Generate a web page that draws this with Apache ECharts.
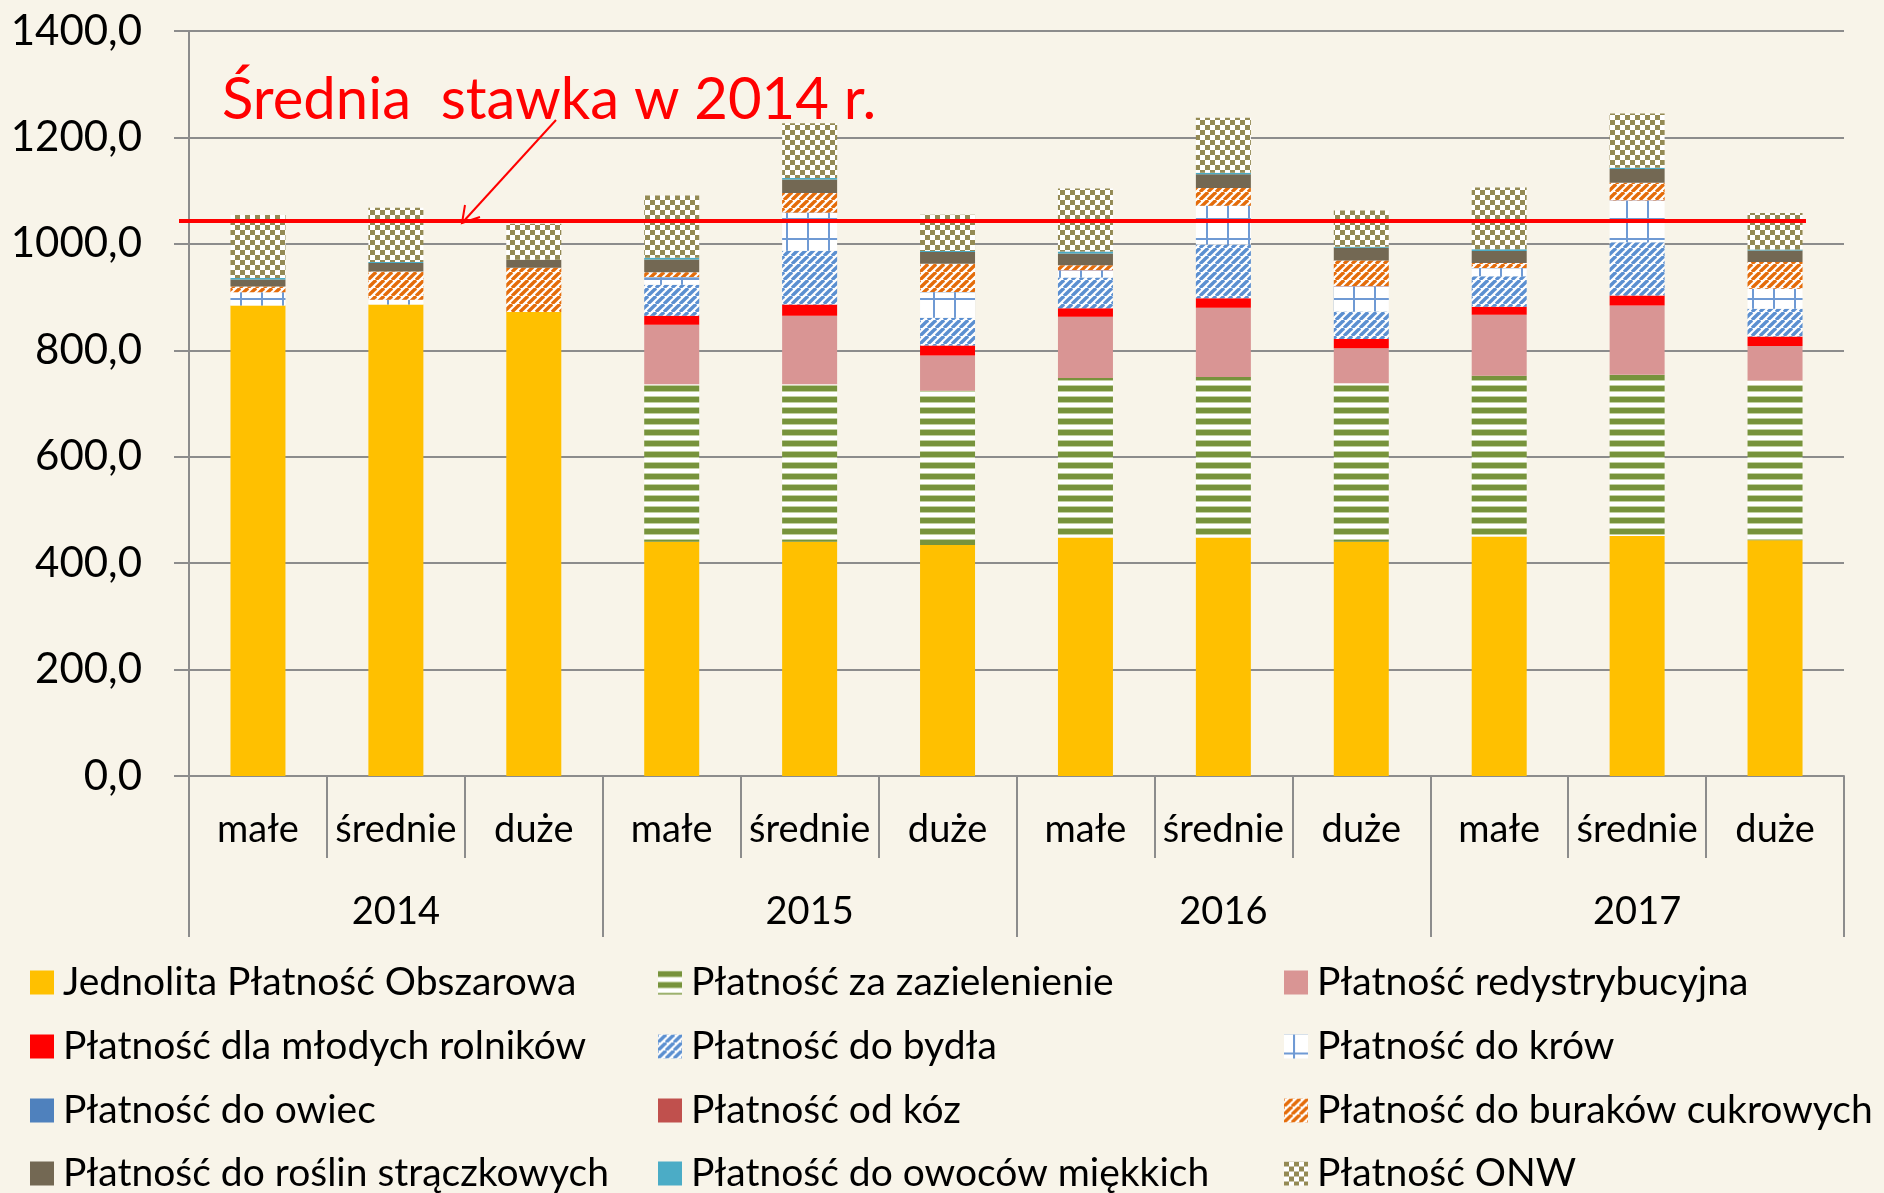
<!DOCTYPE html>
<html>
<head>
<meta charset="utf-8">
<title>Płatności bezpośrednie</title>
<script src="https://cdn.jsdelivr.net/npm/echarts@6/dist/echarts.min.js"></script>
<style>
    html, body { margin: 0; padding: 0; background: #F8F4E9; }
    #chart { width: 1884px; height: 1193px; }
</style>
</head>
<body>
<div id="chart"></div>
<script>
    // kategorie
    var sizes = ['małe', 'średnie', 'duże', 'małe', 'średnie', 'duże', 'małe', 'średnie', 'duże', 'małe', 'średnie', 'duże'];
    var years = ['2014', '2015', '2016', '2017'];
    var yMin = 0, yMax = 1400, yStep = 200;
    var avg2014 = 1043; // Średnia stawka w 2014 r.

    // wartości
    var jpo        = [884, 886, 872, 440, 440, 434, 448, 448, 440, 450, 451, 443];
    var zaziel     = [0, 0, 0, 296, 296, 290, 300, 302, 298, 302, 303, 300];
    var redystr    = [0, 0, 0, 112, 129, 66, 115, 130, 66, 115, 130, 65];
    var mlodzi     = [0, 0, 0, 17, 21, 19, 16, 18, 17, 15, 19, 18];
    var bydlo      = [0, 0, 0, 58, 101, 52, 58, 101, 52, 57, 100, 52];
    var krowy      = [25, 9, 0, 14, 71, 48, 13, 72, 47, 15, 78, 37];
    var owce       = [0, 0, 0, 0.6, 0.6, 0.5, 0.6, 0.6, 0.5, 0.6, 0.6, 0.5];
    var kozy       = [0, 0, 0, 0.2, 0.2, 0.2, 0.2, 0.2, 0.2, 0.2, 0.2, 0.2];
    var buraki     = [11, 53, 83, 9, 37, 53, 9, 33, 48, 9, 33, 50];
    var straczkowe = [13, 16, 15, 24, 25, 22, 22, 26, 24, 23, 26, 22];
    var owoce      = [3, 2, 0, 3, 3, 2, 4, 3, 2, 3, 2, 1.5];
    var onw        = [118, 102, 68, 117, 103, 68, 118, 103, 68, 116, 102, 69];

    var FONT = 'Lato';

    function tile(w, h, paint) {
        var c = document.createElement('canvas');
        c.width = w; c.height = h;
        var ctx = c.getContext('2d');
        ctx.fillStyle = '#FFFFFF';
        ctx.fillRect(0, 0, w, h);
        paint(ctx, w, h);
        return { image: c, repeat: 'repeat' };
    }
    function stripesH(color) {
        return tile(8, 11, function (ctx, w) {
            ctx.fillStyle = '#C3D1A3';
            ctx.fillRect(0, 0, w, 7);
            ctx.fillStyle = color;
            ctx.fillRect(0, 1, w, 5);
        });
    }
    function diag(color, p) {
        return tile(p, p, function (ctx) {
            ctx.strokeStyle = color;
            ctx.lineWidth = p * 0.42;
            for (var k = -1; k <= 1; k++) {
                ctx.beginPath();
                ctx.moveTo(k * p, p);
                ctx.lineTo(k * p + p, 0);
                ctx.stroke();
            }
        });
    }
    function gridTile(color) {
        return tile(21, 20, function (ctx) {
            ctx.fillStyle = color;
            ctx.fillRect(9, 0, 2, 20);
            ctx.fillRect(0, 18, 21, 2);
        });
    }
    function checker(color) {
        return tile(10, 10, function (ctx) {
            ctx.fillStyle = color;
            ctx.fillRect(0, 0, 5, 5);
            ctx.fillRect(5, 5, 5, 5);
        });
    }

    var seriesDefs = [
        ['Jednolita Płatność Obszarowa', jpo, '#FFC000'],
        ['Płatność za zazielenienie', zaziel, stripesH('#77933C')],
        ['Płatność redystrybucyjna', redystr, '#D99594'],
        ['Płatność dla młodych rolników', mlodzi, '#FF0000'],
        ['Płatność do bydła', bydlo, diag('#5B8FD0', 8)],
        ['Płatność do krów', krowy, gridTile('#6F9AD4')],
        ['Płatność do owiec', owce, '#4F81BD'],
        ['Płatność od kóz', kozy, '#C0504D'],
        ['Płatność do buraków cukrowych', buraki, diag('#E46C0A', 8)],
        ['Płatność do roślin strączkowych', straczkowe, '#736853'],
        ['Płatność do owoców miękkich', owoce, '#4BACC6'],
        ['Płatność ONW', onw, checker('#948A54')]
    ];
    var names = seriesDefs.map(function (d) { return d[0]; });

    // legenda: 3 kolumny x 4 wiersze
    var legendCols = [30, 658, 1284];
    var legendRows = [983, 1047, 1111, 1174];
    var legends = names.map(function (n, i) {
        return {
            left: legendCols[i % 3],
            top: legendRows[Math.floor(i / 3)] - 20,
            padding: 0,
            itemWidth: 24,
            itemHeight: 24,
            icon: 'rect',
            selectedMode: false,
            data: [n],
            textStyle: { fontSize: 39, fontFamily: FONT, color: '#000', padding: [0, 0, 0, 4] }
        };
    });

    var axisGray = '#8C8C8C';
    var chart = echarts.init(document.getElementById('chart'));
    chart.setOption({
        backgroundColor: '#F8F4E9',
        animation: false,
        grid: { left: 189, right: 40, top: 31, bottom: 417 },
        legend: legends,
        xAxis: [
            {
                type: 'category',
                data: sizes,
                axisLine: { lineStyle: { color: axisGray, width: 2 } },
                axisTick: { show: true, interval: 0, length: 82, lineStyle: { color: axisGray, width: 2 } },
                axisLabel: { interval: 0, margin: 35, fontSize: 38, fontFamily: FONT, color: '#000' }
            },
            {
                type: 'category',
                data: years,
                position: 'bottom',
                axisLine: { show: false },
                axisTick: { show: true, interval: 0, length: 161, lineStyle: { color: axisGray, width: 2 } },
                axisLabel: { interval: 0, margin: 117, fontSize: 38, fontFamily: FONT, color: '#000' }
            }
        ],
        yAxis: {
            type: 'value',
            min: yMin,
            max: yMax,
            interval: yStep,
            axisLine: { show: true, lineStyle: { color: axisGray, width: 2 } },
            axisTick: { show: true, length: 15, lineStyle: { color: axisGray, width: 2 } },
            splitLine: { lineStyle: { color: axisGray, width: 2 } },
            axisLabel: {
                margin: 47,
                fontSize: 42,
                fontFamily: FONT,
                color: '#000',
                formatter: function (v) { return v.toFixed(1).replace('.', ','); }
            }
        },
        series: seriesDefs.map(function (d) {
            return {
                name: d[0],
                type: 'bar',
                stack: 'total',
                barWidth: 55,
                data: d[1],
                itemStyle: { color: d[2] }
            };
        })
    });

    // linia średniej stawki i adnotacja
    var yAvg = chart.convertToPixel({ yAxisIndex: 0 }, avg2014);
    var tipX = 462, tipY = yAvg + 2;
    chart.setOption({
        graphic: [
            {
                type: 'line',
                z: 100,
                shape: { x1: 179, y1: yAvg, x2: 1806, y2: yAvg },
                style: { stroke: '#FF0000', lineWidth: 4 }
            },
            {
                type: 'polyline',
                z: 100,
                shape: { points: [[556, 120], [tipX, tipY]] },
                style: { stroke: '#FF0000', lineWidth: 2, fill: null }
            },
            {
                type: 'polyline',
                z: 100,
                shape: { points: [[465, tipY - 18], [tipX, tipY], [480, tipY - 6]] },
                style: { stroke: '#FF0000', lineWidth: 2, fill: null }
            },
            {
                type: 'text',
                z: 100,
                style: {
                    x: 222, y: 100,
                    text: 'Średnia  stawka w 2014 r.',
                    fill: '#FF0000',
                    font: '58px Lato',
                    verticalAlign: 'middle'
                }
            }
        ]
    });
</script>
</body>
</html>
